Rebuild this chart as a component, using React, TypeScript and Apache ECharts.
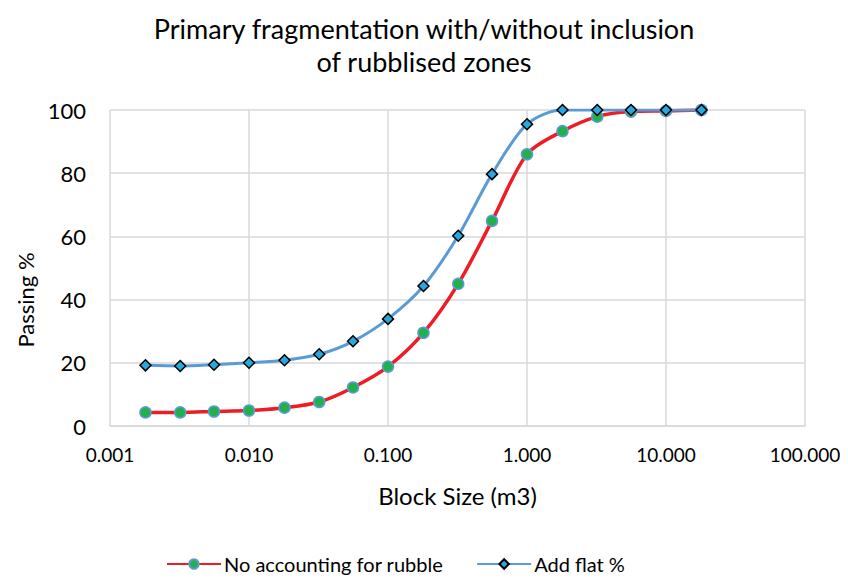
import React, { useEffect, useRef } from "react";
import * as echarts from "echarts";

const blockSizes = [0.0018, 0.0032, 0.0056, 0.01, 0.018, 0.032, 0.056, 0.1, 0.18, 0.32, 0.56, 1.0, 1.8, 3.2, 5.6, 10, 18];
const noRubble = [4.3, 4.3, 4.6, 4.9, 5.8, 7.6, 12.2, 18.8, 29.5, 45.0, 64.9, 86.0, 93.3, 97.9, 99.5, 99.7, 100];
const addFlat = [19.2, 19.0, 19.4, 20.0, 20.8, 22.7, 26.8, 33.9, 44.3, 60.2, 79.7, 95.5, 100, 100, 100, 100, 100];

const FONT = "Lato, 'Open Sans', sans-serif";

export default function App() {
  const ref = useRef<HTMLDivElement>(null);
  useEffect(() => {
    if (!ref.current) return;
    const chart = echarts.init(ref.current, null, { renderer: "svg" });
    chart.setOption({
      animation: false,
      backgroundColor: "#fff",
      textStyle: { fontFamily: FONT },
      title: {
        text: "Primary fragmentation with/without inclusion\nof rubblised zones",
        left: "center",
        top: 7,
        textStyle: { fontFamily: FONT, fontSize: 27, fontWeight: "normal", color: "#000", lineHeight: 33 },
      },
      grid: { left: 110, right: 43, top: 110, bottom: 157 },
      graphic: [
        {
          type: "text",
          x: 25,
          y: 300,
          rotation: Math.PI / 2,
          style: {
            text: "Passing %",
            fontFamily: FONT,
            fontSize: 22,
            fill: "#000",
            align: "center",
            verticalAlign: "middle",
          },
        },
      ],
      xAxis: {
        type: "log",
        logBase: 10,
        min: 0.001,
        max: 100,
        name: "Block Size (m3)",
        nameLocation: "middle",
        nameGap: 57,
        nameTextStyle: { fontFamily: FONT, fontSize: 24, color: "#000" },
        axisLine: { show: true, lineStyle: { color: "#D9D9D9", width: 1.5 } },
        axisTick: { show: false },
        splitLine: { show: true, lineStyle: { color: "#D9D9D9", width: 1.5 } },
        minorTick: { show: false },
        axisLabel: {
          fontFamily: FONT,
          fontSize: 19,
          color: "#000",
          margin: 19,
          formatter: (v: number) => v.toFixed(3),
        },
      },
      yAxis: {
        type: "value",
        min: 0,
        max: 100,
        interval: 20,
        axisLine: { show: false },
        axisTick: { show: false },
        splitLine: { show: true, lineStyle: { color: "#D9D9D9", width: 1.5 } },
        axisLabel: { fontFamily: FONT, fontSize: 22, color: "#000", margin: 24 },
      },
      legend: {
        bottom: 4,
        left: 161,
        itemGap: 33,
        itemWidth: 54,
        itemHeight: 12,
        textStyle: { fontFamily: FONT, fontSize: 20, color: "#000", padding: [0, 0, 0, -2] },
        data: ["No accounting for rubble", "Add flat %"],
      },
      series: [
        {
          name: "No accounting for rubble",
          type: "line",
          data: blockSizes.map((x, i) => [x, noRubble[i]]),
          smooth: 0.3,
          symbol: "circle",
          symbolSize: 11,
          lineStyle: { color: "#EE1C25", width: 3.5 },
          itemStyle: { color: "#22B04B", borderColor: "#5B9BD5", borderWidth: 1.5 },
          z: 2,
        },
        {
          name: "Add flat %",
          type: "line",
          data: blockSizes.map((x, i) => [x, addFlat[i]]),
          smooth: 0.3,
          symbol: "diamond",
          symbolSize: 11,
          lineStyle: { color: "#5B9BD5", width: 3 },
          itemStyle: { color: "#29A8E0", borderColor: "#000", borderWidth: 1.5 },
          z: 3,
        },
      ],
    });
    return () => chart.dispose();
  }, []);
  return <div ref={ref} style={{ width: 848, height: 583, margin: -8 }} />;
}
